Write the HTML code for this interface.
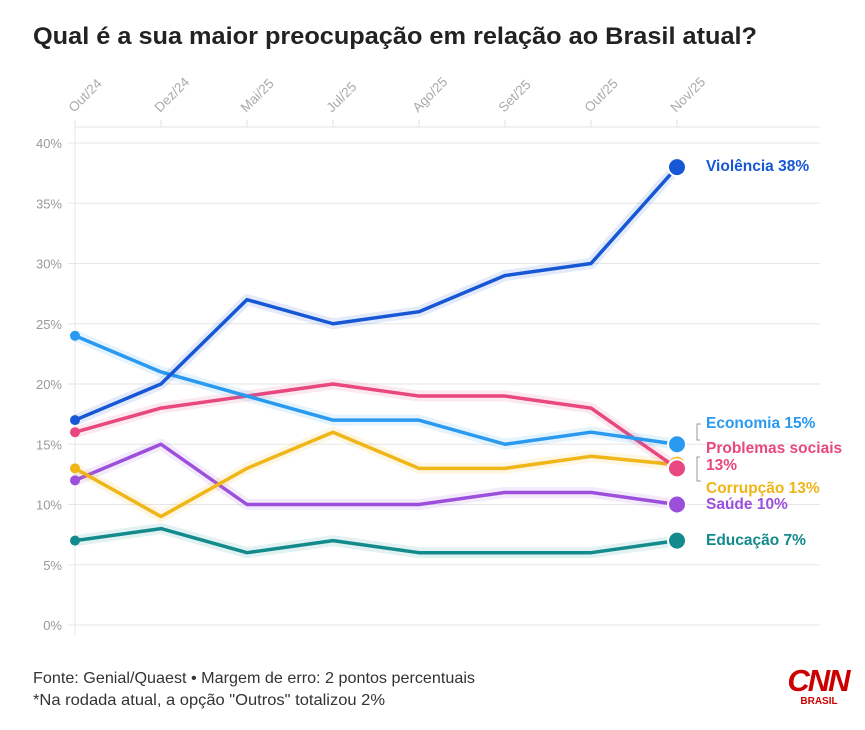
<!DOCTYPE html>
<html><head><meta charset="utf-8"><style>
body{margin:0;background:#fff;width:865px;height:725px;overflow:hidden;font-family:"Liberation Sans",sans-serif}
</style></head><body>
<svg id="c" width="865" height="725" xmlns="http://www.w3.org/2000/svg">
<text x="33" y="44" font-size="24" font-weight="bold" fill="#222" textLength="724" lengthAdjust="spacingAndGlyphs">Qual é a sua maior preocupação em relação ao Brasil atual?</text>
<g id="grid"></g><g id="lines"></g><g id="labels"></g>
<text x="33" y="683" font-size="16" fill="#333" textLength="442" lengthAdjust="spacingAndGlyphs">Fonte: Genial/Quaest • Margem de erro: 2 pontos percentuais</text>
<text x="33" y="705" font-size="16" fill="#333" textLength="352" lengthAdjust="spacingAndGlyphs">*Na rodada atual, a opção "Outros" totalizou 2%</text>
<g><text x="818" y="691" text-anchor="middle" font-size="31" font-weight="bold" fill="#cc0000" font-style="italic" letter-spacing="-2">CNN</text><text x="819" y="704" text-anchor="middle" font-size="10" font-weight="bold" fill="#cc0000">BRASIL</text></g>
</svg>
<script>
const categories=["Out/24","Dez/24","Mai/25","Jul/25","Ago/25","Set/25","Out/25","Nov/25"];
const yTicks=[0,5,10,15,20,25,30,35,40];
const violencia=[17,20,27,25,26,29,30,38];
const economia=[24,21,19,17,17,15,16,15];
const problemas=[16,18,19,20,19,19,18,13];
const corrupcao=[13,9,13,16,13,13,14,13.3];
const saude=[12,15,10,10,10,11,11,10];
const educacao=[7,8,6,7,6,6,6,7];
const series=[
 {name:"saude",data:saude,color:"#9b4fdb",label:"Saúde 10%",ly:504},
 {name:"educacao",data:educacao,color:"#138a8c",label:"Educação 7%",ly:540},
 {name:"corrupcao",data:corrupcao,color:"#f0b516",label:"Corrupção 13%",ly:488},
 {name:"problemas-sociais",data:problemas,color:"#e8477f",label:"Problemas sociais|13%",ly:448},
 {name:"economia",data:economia,color:"#2a9af0",label:"Economia 15%",ly:423},
 {name:"violencia",data:violencia,color:"#1757d6",label:"Violência 38%",ly:166}];
const x=i=>75+i*86.0;
const y=v=>625-v*12.05;
const NS="http://www.w3.org/2000/svg";
function mk(p,t,a){const e=document.createElementNS(NS,t);for(const k in a)e.setAttribute(k,a[k]);p.appendChild(e);return e;}
const g=document.getElementById('grid');
yTicks.forEach(v=>{
 const l=mk(g,'line',{x1:68,x2:820,y1:y(v),y2:y(v),stroke:'#e6e6e6','stroke-width':1});
 
 
 const t=mk(g,'text',{x:62,y:y(v)+5,'text-anchor':'end','font-size':13,fill:'#999'});t.textContent=v+'%';
 
 
});
const ax=mk(g,'line',{x1:75,x2:75,y1:120,y2:635,stroke:'#e6e6e6'});


const tx=mk(g,'line',{x1:75,x2:820,y1:127,y2:127,stroke:'#e6e6e6'});


categories.forEach((c,i)=>{
 mk(g,'line',{x1:x(i),x2:x(i),y1:120,y2:127,stroke:'#e0e0e0'});
 const t=mk(g,'text',{x:x(i)-1,y:113,'text-anchor':'start','font-size':13.5,fill:'#aaa',transform:`rotate(-45 ${x(i)-1} 113)`});
 t.textContent=c;
 
 
});
const L=document.getElementById('lines'),LB=document.getElementById('labels');
series.forEach(s=>{
 const d=s.data.map((v,i)=>(i?'L':'M')+x(i)+','+y(v)).join('');
 mk(L,'path',{d,fill:'none',stroke:s.color,'stroke-opacity':0.12,'stroke-width':11,'stroke-linejoin':'round'});
 const p=mk(L,'path',{d,fill:'none',stroke:s.color,'stroke-width':3.5,'stroke-linejoin':'round'});
 
 
 const c0=mk(L,'circle',{cx:x(0),cy:y(s.data[0]),r:5,fill:s.color});
 
 
 const n=s.data.length-1;
 const c=mk(L,'circle',{cx:x(n),cy:y(s.data[n]),r:9,fill:s.color,stroke:'#fff','stroke-width':2});
 
 
 const parts=s.label.split('|');
 const t=mk(LB,'text',{x:706,y:s.ly+5,'font-size':15.5,'font-weight':'bold',fill:s.color});
 
 
 parts.forEach((pt,k)=>{const ts=mk(t,'tspan',{x:706,dy:k?17:0});ts.textContent=pt;});
});
mk(LB,'path',{d:'M701,424 H697 V440 H700 M700,457 H697 V481 H701',fill:'none',stroke:'#999','stroke-width':1});
</script>
</body></html>
